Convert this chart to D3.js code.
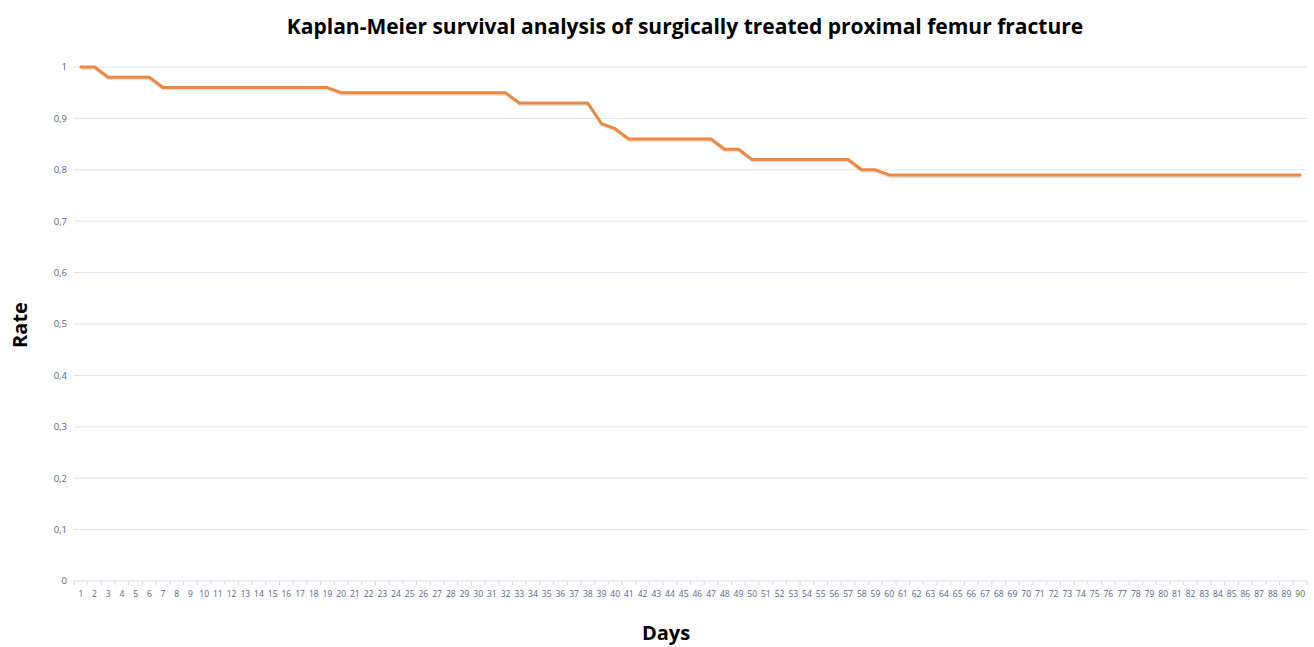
<!DOCTYPE html>
<html>
<head>
<meta charset="utf-8">
<script src="https://cdn.jsdelivr.net/npm/d3@7"></script>
<style>
  body { margin: 0; background: #fff; }
  svg { display: block; font-family: "Open Sans", "Noto Sans", sans-serif; }
</style>
</head>
<body>
<div id="wrapper"></div>
<script>
// days 1..90
const days = d3.range(1, 91)

// survival rate per day
const rates = [
  1, 1, 0.98, 0.98, 0.98, 0.98, 0.96, 0.96, 0.96, 0.96,
  0.96, 0.96, 0.96, 0.96, 0.96, 0.96, 0.96, 0.96, 0.96, 0.95,
  0.95, 0.95, 0.95, 0.95, 0.95, 0.95, 0.95, 0.95, 0.95, 0.95,
  0.95, 0.95, 0.93, 0.93, 0.93, 0.93, 0.93, 0.93, 0.89, 0.88,
  0.86, 0.86, 0.86, 0.86, 0.86, 0.86, 0.86, 0.84, 0.84, 0.82,
  0.82, 0.82, 0.82, 0.82, 0.82, 0.82, 0.82, 0.80, 0.80, 0.79,
  0.79, 0.79, 0.79, 0.79, 0.79, 0.79, 0.79, 0.79, 0.79, 0.79,
  0.79, 0.79, 0.79, 0.79, 0.79, 0.79, 0.79, 0.79, 0.79, 0.79,
  0.79, 0.79, 0.79, 0.79, 0.79, 0.79, 0.79, 0.79, 0.79, 0.79
]

const yTicks = [0, 0.1, 0.2, 0.3, 0.4, 0.5, 0.6, 0.7, 0.8, 0.9, 1]

const title = "Kaplan-Meier survival analysis of surgically treated proximal femur fracture"

const dataset = days.map((d, i) => ({ day: d, rate: rates[i] }))

const dimensions = {
  width: 1314,
  height: 647,
  margin: { top: 67, right: 7, bottom: 66, left: 74 },
}
dimensions.boundedWidth = dimensions.width - dimensions.margin.left - dimensions.margin.right
dimensions.boundedHeight = dimensions.height - dimensions.margin.top - dimensions.margin.bottom

const svg = d3.select("#wrapper").append("svg")
  .attr("width", dimensions.width)
  .attr("height", dimensions.height)

const bounds = svg.append("g")
  .attr("transform", `translate(${dimensions.margin.left},${dimensions.margin.top})`)

const xScale = d3.scaleBand()
  .domain(days)
  .range([0, dimensions.boundedWidth])

const yScale = d3.scaleLinear()
  .domain([0, 1])
  .range([dimensions.boundedHeight, 0])

const fmt = v => v === 0 ? "0" : v === 1 ? "1" : d3.format(".1f")(v).replace(".", ",")

// gridlines
bounds.append("g")
  .selectAll("line")
  .data(yTicks.filter(t => t > 0))
  .join("line")
    .attr("x1", 0)
    .attr("x2", dimensions.boundedWidth)
    .attr("y1", d => yScale(d))
    .attr("y2", d => yScale(d))
    .attr("stroke", "#dde4f1")
    .attr("stroke-width", 1)

// y labels
bounds.append("g")
  .selectAll("text")
  .data(yTicks)
  .join("text")
    .attr("x", -7)
    .attr("y", d => yScale(d))
    .attr("dy", "0.35em")
    .attr("text-anchor", "end")
    .attr("fill", "#52678a")
    .style("font-size", "9.5px")
    .text(fmt)

// x axis line and tick marks between categories
const xAxis = bounds.append("g")
  .attr("transform", `translate(0,${dimensions.boundedHeight})`)
xAxis.append("line")
  .attr("x1", 0)
  .attr("x2", dimensions.boundedWidth)
  .attr("stroke", "#d4dcea")
xAxis.selectAll(".tick-mark")
  .data(days.concat([null]))
  .join("line")
    .attr("class", "tick-mark")
    .attr("x1", (d, i) => i * xScale.step())
    .attr("x2", (d, i) => i * xScale.step())
    .attr("y1", 0)
    .attr("y2", 4)
    .attr("stroke", "#d4dcea")
xAxis.selectAll(".tick-label")
  .data(days)
  .join("text")
    .attr("class", "tick-label")
    .attr("x", d => xScale(d) + xScale.bandwidth() / 2)
    .attr("y", 15.5)
    .attr("text-anchor", "middle")
    .attr("fill", "#52678a")
    .style("font-size", "8.5px")
    .text(d => d)

// survival line
const line = d3.line()
  .x(d => xScale(d.day) + xScale.bandwidth() / 2)
  .y(d => yScale(d.rate))

bounds.append("path")
  .datum(dataset)
  .attr("d", line)
  .attr("fill", "none")
  .attr("stroke", "#000")
  .attr("stroke-opacity", 0.12)
  .attr("stroke-width", 3)
  .attr("transform", "translate(0.5,1.5)")

bounds.append("path")
  .datum(dataset)
  .attr("d", line)
  .attr("fill", "none")
  .attr("stroke", "#ed8a3f")
  .attr("stroke-width", 3)
  .attr("stroke-linejoin", "round")
  .attr("stroke-linecap", "round")

// titles
svg.append("text")
  .attr("x", 685)
  .attr("y", 34)
  .attr("text-anchor", "middle")
  .style("font-size", "21px")
  .style("font-weight", "bold")
  .attr("fill", "#000")
  .text(title)

svg.append("text")
  .attr("x", 666)
  .attr("y", 640)
  .attr("text-anchor", "middle")
  .style("font-size", "20px")
  .style("font-weight", "bold")
  .attr("fill", "#000")
  .text("Days")

svg.append("text")
  .attr("transform", "translate(27,325) rotate(-90)")
  .attr("text-anchor", "middle")
  .style("font-size", "20px")
  .style("font-weight", "bold")
  .attr("fill", "#000")
  .text("Rate")
</script>
</body>
</html>
